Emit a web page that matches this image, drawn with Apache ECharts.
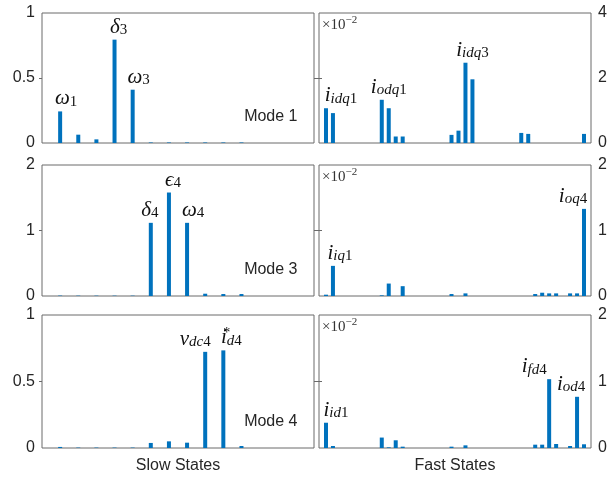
<!DOCTYPE html>
<html>
<head>
<meta charset="utf-8">
<script src="https://cdn.jsdelivr.net/npm/echarts@6/dist/echarts.min.js"></script>
<style>
html,body{margin:0;padding:0;background:#fff;}
#c{width:616px;height:479px;}
</style>
</head>
<body>
<div id="c"></div>
<script>
// ---------- data ----------
// state index positions (x axis runs from 0 to N+1, bars at 1..N)
const slowStates = [1,2,3,4,5,6,7,8,9,10,11,12,13,14];
const fastStates = [1,2,3,4,5,6,7,8,9,10,11,12,13,14,15,16,17,18,19,20,21,22,23,24,25,26,27,28,29,30,31,32,33,34,35,36,37,38];

// participation factors, slow states (linear scale)
const slowMode1 = [0.243,0.064,0.028,0.795,0.41,0.004,0.004,0.004,0.004,0.004,0.004,0,0,0];
const slowMode3 = [0.006,0.005,0.005,0.005,0.005,1.117,1.58,1.117,0.035,0.03,0.03,0,0,0];
const slowMode4 = [0.008,0.003,0.003,0.003,0.003,0.038,0.05,0.04,0.723,0.734,0.015,0,0,0];

// participation factors, fast states (in units of 1e-2)
const fastMode1 = [1.07,0.92,0,0,0,0,0,0,1.33,1.07,0.2,0.2,0,0,0,0,0,0,0.25,0.38,2.47,1.96,0,0,0,0,0,0,0.31,0.28,0,0,0,0,0,0,0,0.28];
const fastMode3 = [0.02,0.46,0,0,0,0,0,0,0.01,0.19,0,0.15,0,0,0,0,0,0,0.03,0,0.04,0,0,0,0,0,0,0,0,0,0.03,0.05,0.04,0.04,0,0.04,0.04,1.33];
const fastMode4 = [0.38,0.03,0,0,0,0,0,0,0.157,0.01,0.116,0.02,0,0,0,0,0,0,0.02,0,0.04,0,0,0,0,0,0,0,0,0,0.05,0.05,1.035,0.06,0,0.03,0.77,0.056];

// y-axis ticks
const slowTicks1 = [0, 0.5, 1];
const slowTicks3 = [0, 1, 2];
const slowTicks4 = [0, 0.5, 1];
const fastTicks1 = [0, 2, 4];
const fastTicks3 = [0, 1, 2];
const fastTicks4 = [0, 1, 2];

// text
const modeNames = ['Mode 1', 'Mode 3', 'Mode 4'];
const slowAxisName = 'Slow States';
const fastAxisName = 'Fast States';
const exponentText = '{a|×10}{b|−2}';

// state labels: [state index, rich text]
const slowLabels1 = [[1,'{m|ω}{n|1}'],[4,'{m|δ}{n|3}'],[5,'{m|ω}{n|3}']];
const slowLabels3 = [[6,'{m|δ}{n|4}'],[7,'{m|ϵ}{n|4}'],[8,'{m|ω}{n|4}']];
const slowLabels4 = [[9,'{m|v}{s|dc}{n|4}'],[10,'{m|i}{sp|*}{s|d}{n|4}']];
const fastLabels1 = [[1,'{m|i}{s|idq}{n|1}'],[9,'{m|i}{s|odq}{n|1}'],[21,'{m|i}{s|idq}{n|3}']];
const fastLabels3 = [[2,'{m|i}{s|iq}{n|1}'],[38,'{m|i}{s|oq}{n|4}']];
const fastLabels4 = [[1,'{m|i}{s|id}{n|1}'],[33,'{m|i}{s|fd}{n|4}'],[37,'{m|i}{s|od}{n|4}']];

// ---------- style / layout ----------
const BLUE = '#0072BD';
const BOX = '#6a6a6a';
const TXT = '#262626';
const SANS = '"Liberation Sans", Arial, Helvetica, sans-serif';
const SERIF = '"Liberation Serif", "DejaVu Serif", "Times New Roman", serif';
const cols = [{left: 42, width: 272}, {left: 319, width: 272}];
const rows = [{top: 13, height: 130}, {top: 165, height: 131}, {top: 315, height: 133}];
// label pixel offsets per state (style only)
const labelOffsets = {
  's0': {1:[6,0],4:[4,0],5:[6,0]},
  's1': {6:[-1,0],7:[4,0],8:[6,0]},
  's2': {9:[-10,0],10:[8,0]},
  'f0': {1:[15,0],9:[7,0],21:[7,0]},
  'f1': {2:[7,0],38:[-11,0]},
  'f2': {1:[10,0],33:[-15,0],37:[-6,0]}
};
const rich = {
  m: {fontFamily: SERIF, fontStyle: 'italic', fontSize: 21, lineHeight: 22, verticalAlign: 'bottom', color: '#111'},
  s: {fontFamily: SERIF, fontStyle: 'italic', fontSize: 15, lineHeight: 8, verticalAlign: 'bottom', color: '#111'},
  n: {fontFamily: SERIF, fontStyle: 'normal', fontSize: 15, lineHeight: 8, verticalAlign: 'bottom', color: '#111'},
  sp: {fontFamily: SERIF, fontSize: 14, lineHeight: 12, verticalAlign: 'top', width: 0.01, color: '#111'}
};

const panels = [
  {row:0, col:0, x: slowStates, y: slowMode1, ticks: slowTicks1, labels: slowLabels1, key:'s0'},
  {row:0, col:1, x: fastStates, y: fastMode1, ticks: fastTicks1, labels: fastLabels1, key:'f0'},
  {row:1, col:0, x: slowStates, y: slowMode3, ticks: slowTicks3, labels: slowLabels3, key:'s1'},
  {row:1, col:1, x: fastStates, y: fastMode3, ticks: fastTicks3, labels: fastLabels3, key:'f1'},
  {row:2, col:0, x: slowStates, y: slowMode4, ticks: slowTicks4, labels: slowLabels4, key:'s2'},
  {row:2, col:1, x: fastStates, y: fastMode4, ticks: fastTicks4, labels: fastLabels4, key:'f2'}
];

const grid = [], xAxis = [], yAxis = [], series = [], title = [];
panels.forEach((p, i) => {
  const c = cols[p.col], r = rows[p.row];
  grid.push({left: c.left, width: c.width, top: r.top, height: r.height, show: true,
    borderColor: BOX, borderWidth: 1, backgroundColor: 'rgba(0,0,0,0)', containLabel: false});
  const isBottom = p.row === 2;
  xAxis.push({type: 'value', gridIndex: i, min: 0, max: p.x.length + 1,
    axisLine: {show: false}, axisTick: {show: false}, axisLabel: {show: false}, splitLine: {show: false},
    name: isBottom ? (p.col === 0 ? slowAxisName : fastAxisName) : '',
    nameLocation: 'middle', nameGap: 10,
    nameTextStyle: {fontFamily: SANS, fontSize: 16, color: TXT}});
  const yMax = p.ticks[p.ticks.length - 1];
  const interval = p.ticks[1] - p.ticks[0];
  const primaryPos = p.col === 0 ? 'left' : 'right';
  const mirrorPos = p.col === 0 ? 'right' : 'left';
  const tick = {show: true, inside: false, length: 3, lineStyle: {color: BOX}, customValues: p.ticks.slice(1, -1)};
  yAxis.push({type: 'value', gridIndex: i, min: p.ticks[0], max: yMax, interval: interval, position: primaryPos,
    axisLine: {show: false}, axisTick: tick, splitLine: {show: false},
    axisLabel: {fontFamily: SANS, fontSize: 16, color: TXT, margin: 7}});
  yAxis.push({type: 'value', gridIndex: i, min: p.ticks[0], max: yMax, interval: interval, position: mirrorPos,
    axisLine: {show: false}, axisTick: tick, splitLine: {show: false}, axisLabel: {show: false}});
  const labelMap = {};
  p.labels.forEach(l => { labelMap[l[0]] = l[1]; });
  const offs = labelOffsets[p.key];
  const data = p.x.map((xv, k) => {
    const d = {value: [xv, p.y[k]]};
    if (labelMap[xv]) {
      d.label = {show: true, position: 'top', distance: 2, formatter: labelMap[xv], offset: offs[xv] || [0,0], rich: rich};
    }
    return d;
  });
  series.push({type: 'bar', xAxisIndex: i, yAxisIndex: 2 * i, data: data, barWidth: 4,
    itemStyle: {color: BLUE}, label: {show: false, rich: rich}, animation: false, silent: true});
  if (p.col === 0) {
    title.push({text: modeNames[p.row], right: 616 - 297.5, top: r.top + r.height - 34, padding: 0,
      textStyle: {fontFamily: SANS, fontSize: 16, fontWeight: 'normal', color: TXT}});
  } else {
    title.push({text: exponentText, left: c.left + 3, top: r.top + 2, padding: 0,
      textStyle: {fontWeight: 'normal', rich: {
        a: {fontFamily: SERIF, fontSize: 15, fontWeight: 'normal', lineHeight: 18, verticalAlign: 'bottom', color: '#333'},
        b: {fontFamily: SERIF, fontSize: 11, fontWeight: 'normal', lineHeight: 11, verticalAlign: 'top', color: '#333'}
      }}});
  }
});

const chart = echarts.init(document.getElementById('c'), null, {renderer: 'canvas'});
chart.setOption({animation: false, backgroundColor: '#fff', title, grid, xAxis, yAxis, series});
</script>
</body>
</html>
